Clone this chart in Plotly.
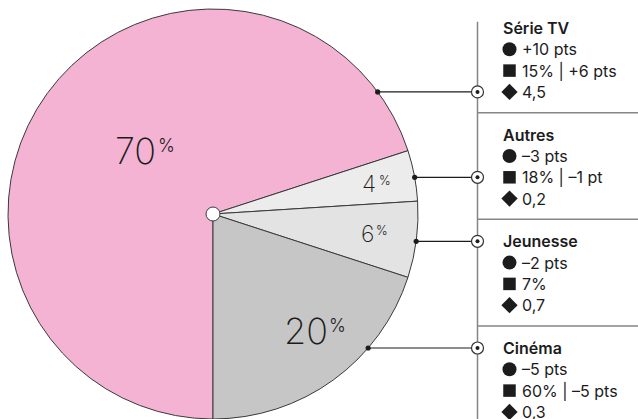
import math
import plotly.graph_objects as go

# ---- data ----
categories = ["Série TV", "Autres", "Jeunesse", "Cinéma"]
shares = [70, 4, 6, 20]
circle_vals = ["+10 pts", "–3 pts", "–2 pts", "–5 pts"]
square_vals = ["15% | +6 pts", "18% | –1 pt", "7%", "60% | –5 pts"]
diamond_vals = ["4,5", "0,2", "0,7", "0,3"]

# ---- styling / layout ----
W, H = 638, 419
slice_colors = ["#F5B3D3", "#ECECEC", "#E3E3E3", "#C6C6C6"]
FONT = "Inter"
INK = "#1c1c1c"
GRID = "#858585"

CX, R = 213.0, 205.0
CY = H - R  # pie sits on the bottom edge
label_rf = [0.487, 0.776, 0.76, 0.73]
label_da = [3.5, 0.0, 0.3, -2.4]
label_size = [36, 23, 23, 36]
pct_size = [18, 12.5, 12.5, 18]
pct_dx = [20.5, 7.5, 7.0, 21.5]
pct_dy = [-5.0, -3.6, -4.0, -5.5]

VX = 477.5               # vertical legend rule
TITLE_Y = [28.0, 134.7, 241.3, 348.0]
ROW = 21.3
leader_row = [3, 2, 0, 0]
MARK_X = 509.5
TEXT_X = 519.5
TITLE_X = 500.5
LEG_SIZE = 16

fig = go.Figure()

fig.add_trace(go.Pie(
    values=shares, labels=categories, sort=False, direction="clockwise",
    rotation=180, marker=dict(colors=slice_colors, line=dict(color="#3a3a3a", width=1)),
    textinfo="none", hoverinfo="skip", showlegend=False,
    domain=dict(x=[(CX - R) / W, (CX + R) / W], y=[0, 2 * R / H]),
))

shapes = []
annotations = []

# pie labels
total = sum(shares)
start = 180.0
for i, v in enumerate(shares):
    span = 360.0 * v / total
    mid = math.radians(start + span / 2 + label_da[i])
    start += span
    lx = CX + label_rf[i] * R * math.sin(mid)
    ly = CY - label_rf[i] * R * math.cos(mid)
    annotations.append(dict(x=lx, y=ly, xref="x", yref="y", text=str(v), showarrow=False,
                            xanchor="center", yanchor="middle",
                            font=dict(family=FONT, size=label_size[i], color=INK, weight=200)))
    annotations.append(dict(x=lx + pct_dx[i], y=ly + pct_dy[i], xref="x", yref="y", text="%",
                            showarrow=False, xanchor="left", yanchor="middle",
                            font=dict(family=FONT, size=pct_size[i], color=INK, weight=300)))

# legend rule and dividers
shapes.append(dict(type="line", x0=VX, x1=VX, y0=TITLE_Y[0] - 6.3, y1=H, xref="x", yref="y",
                   line=dict(color=GRID, width=1.5)))
for ty in TITLE_Y[1:]:
    shapes.append(dict(type="line", x0=VX, x1=W, y0=ty - 22, y1=ty - 22, xref="x", yref="y",
                       line=dict(color=GRID, width=1.5)))

mx, my, msym, msz = [], [], [], []
for i, name in enumerate(categories):
    ty = TITLE_Y[i]
    annotations.append(dict(x=TITLE_X, y=ty, xref="x", yref="y", text=name, showarrow=False,
                            xanchor="left", yanchor="middle",
                            font=dict(family=FONT, size=LEG_SIZE, color=INK, weight=600)))
    for k, txt in enumerate([circle_vals[i], square_vals[i], diamond_vals[i]]):
        ry = ty + ROW * (k + 1)
        annotations.append(dict(x=TEXT_X, y=ry, xref="x", yref="y", text=txt, showarrow=False,
                                xanchor="left", yanchor="middle",
                                font=dict(family=FONT, size=LEG_SIZE, color=INK, weight=400)))
        mx.append(MARK_X)
        my.append(ry)
        msym.append(["circle", "square", "diamond"][k])
        msz.append([14, 12.5, 12.5][k])
    # leader line
    ly = ty + ROW * leader_row[i]
    ex = CX + math.sqrt(R * R - (ly - CY) ** 2)
    shapes.append(dict(type="line", x0=ex, x1=VX, y0=ly, y1=ly, xref="x", yref="y",
                       line=dict(color=INK, width=1.2), layer="above"))
    shapes.append(dict(type="circle", x0=ex - 2.6, x1=ex + 2.6, y0=ly - 2.6, y1=ly + 2.6,
                       xref="x", yref="y", fillcolor=INK, line=dict(width=0), layer="above"))
    shapes.append(dict(type="circle", x0=VX - 6, x1=VX + 6, y0=ly - 6, y1=ly + 6,
                       xref="x", yref="y", fillcolor="white", line=dict(color="#333333", width=1.2),
                       layer="above"))
    shapes.append(dict(type="circle", x0=VX - 2, x1=VX + 2, y0=ly - 2, y1=ly + 2,
                       xref="x", yref="y", fillcolor=INK, line=dict(width=0), layer="above"))

fig.add_trace(go.Scatter(x=mx, y=my, mode="markers", hoverinfo="skip", showlegend=False,
                         marker=dict(symbol=msym, size=msz, color=INK, opacity=1,
                                     line=dict(width=0))))

# pie centre
shapes.append(dict(type="circle", x0=CX - 7, x1=CX + 7, y0=CY - 7, y1=CY + 7, xref="x", yref="y",
                   fillcolor="white", line=dict(color="#3a3a3a", width=1), layer="above"))

fig.update_layout(
    width=W, height=H, margin=dict(l=0, r=0, t=0, b=0),
    paper_bgcolor="white", plot_bgcolor="rgba(0,0,0,0)",
    xaxis=dict(range=[0, W], visible=False, fixedrange=True, domain=[0, 1]),
    yaxis=dict(range=[H, 0], visible=False, fixedrange=True, domain=[0, 1]),
    shapes=shapes, annotations=annotations, showlegend=False,
)

fig.write_html("out.html", config={"displayModeBar": False},
               post_script="document.body.style.margin='0';document.body.style.overflow='hidden';")
